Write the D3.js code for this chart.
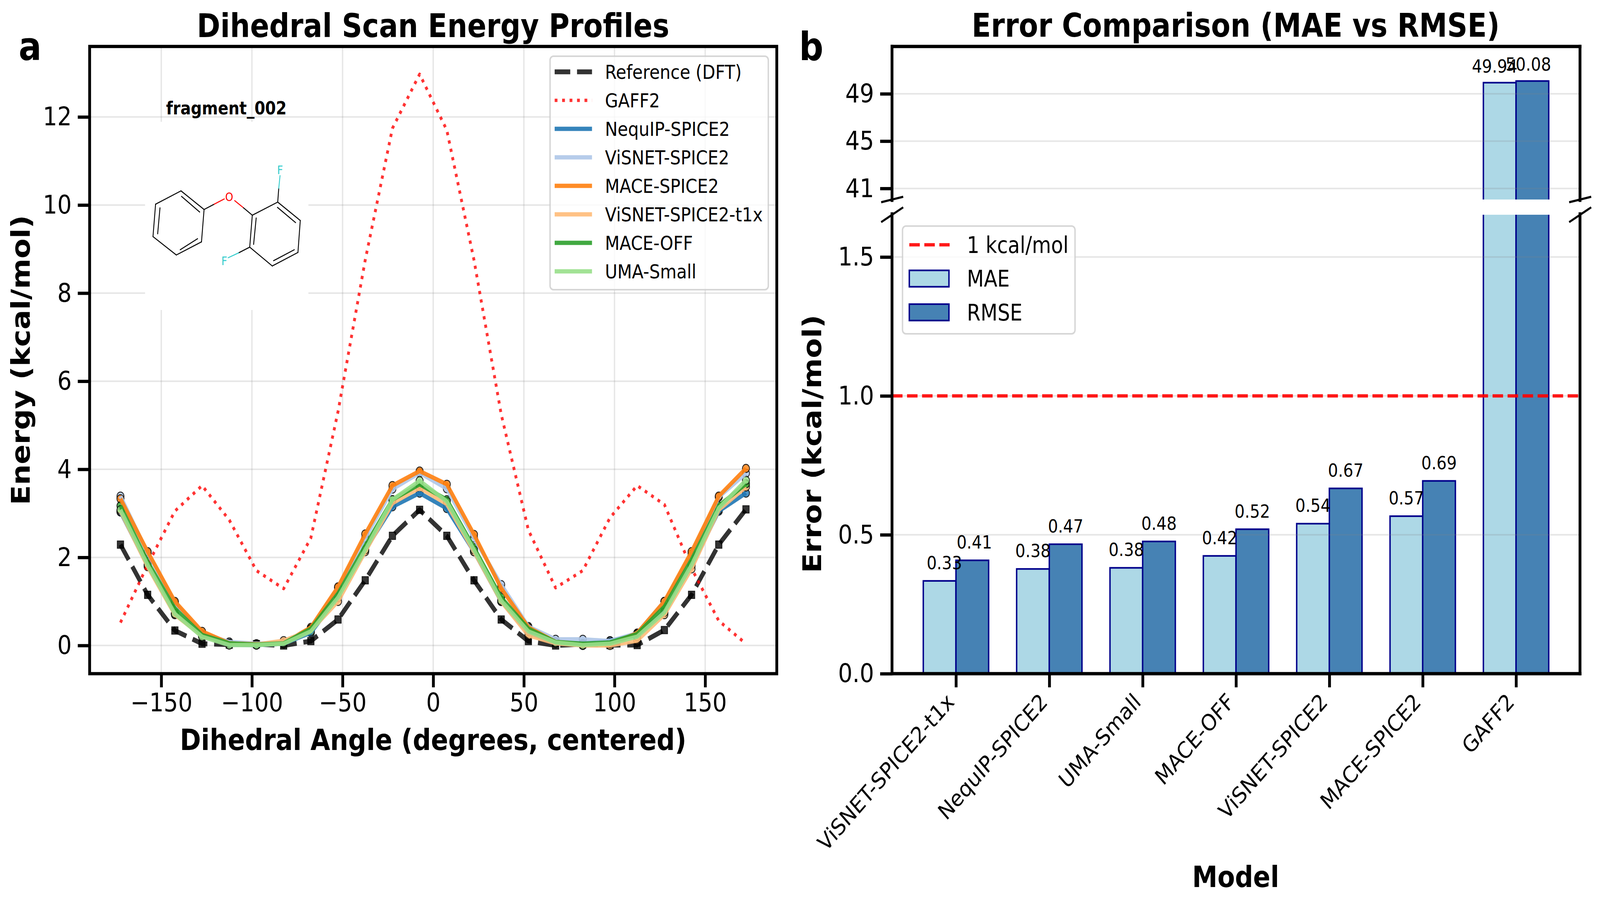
<!DOCTYPE html>
<html>
<head>
<meta charset="utf-8">
<script src="https://cdn.jsdelivr.net/npm/d3@7"></script>
<style>
body { margin: 0; background: #fff; overflow: hidden; }
text { font-family: "DejaVu Sans", sans-serif; fill: #000; }
</style>
</head>
<body>
<script>
// Panel a data
var angles = [-172.5, -157.5, -142.5, -127.5, -112.5, -97.5, -82.5, -67.5, -52.5, -37.5, -22.5, -7.5,
    7.5, 22.5, 37.5, 52.5, 67.5, 82.5, 97.5, 112.5, 127.5, 142.5, 157.5, 172.5];
var refDft = [2.29, 1.15, 0.34, 0.04, 0.02, 0.03, 0.0, 0.1, 0.59, 1.48, 2.49, 3.08, 2.49, 1.48, 0.59, 0.1, 0.0, 0.03, 0.01, 0.01, 0.35, 1.15, 2.29, 3.09];
var gaff2 = [0.52, 1.83, 3.05, 3.63, 2.85, 1.7, 1.29, 2.44, 5.31, 8.75, 11.74, 12.97, 11.7, 8.75, 5.25, 2.62, 1.31, 1.7, 2.9, 3.63, 3.2, 1.75, 0.56, 0.04];
var nequip = [3.03, 1.81, 0.72, 0.24, 0.02, 0.01, 0.04, 0.29, 1.11, 2.17, 3.15, 3.46, 3.11, 2.13, 1.0, 0.29, 0.05, 0.04, 0.11, 0.23, 0.77, 1.81, 3.05, 3.46];
var visnet = [3.39, 2.1, 0.97, 0.27, 0.08, 0.04, 0.07, 0.38, 1.31, 2.44, 3.55, 3.92, 3.56, 2.44, 1.38, 0.43, 0.14, 0.14, 0.1, 0.28, 1.0, 2.08, 3.37, 3.91];
var maceSpice = [3.33, 2.13, 1.0, 0.32, 0.05, 0.03, 0.05, 0.41, 1.33, 2.53, 3.63, 3.96, 3.66, 2.52, 1.3, 0.41, 0.08, 0.02, 0.02, 0.28, 1.0, 2.13, 3.39, 4.02];
var visnetT1x = [3.05, 1.79, 0.7, 0.22, 0.05, 0.02, 0.11, 0.34, 1.0, 2.13, 3.23, 3.58, 3.21, 2.13, 1.0, 0.23, 0.05, 0.0, 0.0, 0.11, 0.7, 1.74, 3.08, 3.6];
var maceOff = [3.17, 1.9, 0.84, 0.24, 0.05, 0.02, 0.05, 0.38, 1.18, 2.26, 3.31, 3.66, 3.31, 2.22, 1.09, 0.38, 0.08, 0.04, 0.07, 0.26, 0.88, 1.95, 3.17, 3.67];
var umaSmall = [3.08, 1.83, 0.72, 0.2, 0.01, 0.01, 0.04, 0.32, 1.09, 2.17, 3.31, 3.74, 3.27, 2.17, 1.02, 0.32, 0.07, 0.01, 0.04, 0.2, 0.75, 1.83, 3.12, 3.75];

// Panel b data
var models = ["ViSNET-SPICE2-t1x", "NequIP-SPICE2", "UMA-Small", "MACE-OFF", "ViSNET-SPICE2", "MACE-SPICE2", "GAFF2"];
var mae = [0.334, 0.377, 0.381, 0.424, 0.54, 0.567, 49.94];
var rmse = [0.408, 0.466, 0.476, 0.52, 0.667, 0.694, 50.08];

var xTicksA = [-150, -100, -50, 0, 50, 100, 150];
var yTicksA = [0, 2, 4, 6, 8, 10, 12];
var yTicksLow = [0, 0.5, 1, 1.5];
var yTicksHigh = [41, 45, 49];

// Molecule sketch, in its own drawing units
var ringAtoms = [[600, 965], [698, 902], [787, 990], [777, 1143], [680, 1205], [590, 1118]];
var ringAtoms2 = [[973, 1017], [1071, 955], [1158, 1042], [1149, 1193], [1050, 1257], [963, 1168]];
var innerBonds = [[[700, 928], [770, 1002]], [[617, 982], [608, 1105]], [[695, 1180], [762, 1128]],
    [[988, 1030], [978, 1155]], [[1070, 980], [1140, 1052]], [[1055, 1232], [1135, 1180]]];
var heteroBonds = [
    [[787, 990], [826, 965], "#000"], [[826, 965], [865, 940], "#ff0000"],
    [[905, 948], [939, 982], "#ff0000"], [[939, 982], [973, 1017], "#000"],
    [[1071, 955], [1075, 890], "#000"], [[1075, 890], [1080, 830], "#33cccc"],
    [[963, 1168], [920, 1195], "#000"], [[920, 1195], [880, 1218], "#33cccc"]
];
var heteroLabels = [["O", 884, 930, "#ff0000"], ["F", 1080, 803, "#33cccc"], ["F", 865, 1232, "#33cccc"]];

var width = 4721;
var height = 2318;

// the drawing stays in 4721x2318 units and is fitted to whatever window it gets
var svg = d3.select("body").append("svg")
    .attr("width", window.innerWidth)
    .attr("height", window.innerHeight)
    .attr("viewBox", "0 0 " + width + " " + height)
    .attr("preserveAspectRatio", "none")
    .style("display", "block");

svg.append("rect").attr("width", width).attr("height", height).attr("fill", "#fff");

var defs = svg.append("defs");

// ---------- panel a ----------
var boxA = { left: 264.5, right: 2292, top: 119, bottom: 1725.5 };
var xA = d3.scaleLinear().domain([-189.5, 189.5]).range([boxA.left, boxA.right]);
var yA = d3.scaleLinear().domain([-0.64, 13.6]).range([boxA.bottom, boxA.top]);

var series = [
    { name: "Reference (DFT)", values: refDft, color: "#000", width: 12.5, dash: "46,20", opacity: 0.8, marker: "square" },
    { name: "GAFF2", values: gaff2, color: "#ff0000", width: 8.3, dash: "8.3,13.7", opacity: 0.8, marker: "none" },
    { name: "NequIP-SPICE2", values: nequip, color: "#1f77b4", width: 11, opacity: 0.9, marker: "circle" },
    { name: "ViSNET-SPICE2", values: visnet, color: "#aec7e8", width: 11, opacity: 0.9, marker: "circle" },
    { name: "MACE-SPICE2", values: maceSpice, color: "#ff7f0e", width: 11, opacity: 0.9, marker: "circle" },
    { name: "ViSNET-SPICE2-t1x", values: visnetT1x, color: "#ffbb78", width: 11, opacity: 0.9, marker: "circle" },
    { name: "MACE-OFF", values: maceOff, color: "#2ca02c", width: 11, opacity: 0.9, marker: "circle" },
    { name: "UMA-Small", values: umaSmall, color: "#98df8a", width: 11, opacity: 0.9, marker: "circle" }
];

var chartA = svg.append("g");

// grid
chartA.append("g").selectAll("line").data(xTicksA).enter().append("line")
    .attr("x1", d => xA(d)).attr("x2", d => xA(d))
    .attr("y1", boxA.top).attr("y2", boxA.bottom)
    .attr("stroke", "#808080").attr("stroke-opacity", 0.2).attr("stroke-width", 4);
chartA.append("g").selectAll("line").data(yTicksA).enter().append("line")
    .attr("x1", boxA.left).attr("x2", boxA.right)
    .attr("y1", d => yA(d)).attr("y2", d => yA(d))
    .attr("stroke", "#808080").attr("stroke-opacity", 0.2).attr("stroke-width", 4);

// molecule inset on white
chartA.append("rect").attr("x", 428).attr("y", 312).attr("width", 482).attr("height", 482).attr("fill", "#fff");
function bondLine(p, q, color) {
    chartA.append("line")
        .attr("x1", p[0] / 1.307).attr("y1", p[1] / 1.845)
        .attr("x2", q[0] / 1.307).attr("y2", q[1] / 1.845)
        .attr("stroke", color).attr("stroke-width", 2.6).attr("stroke-linecap", "round");
}
[ringAtoms, ringAtoms2].forEach(function(ring) {
    ring.forEach(function(p, i) { bondLine(p, ring[(i + 1) % ring.length], "#000"); });
});
innerBonds.forEach(function(b) { bondLine(b[0], b[1], "#000"); });
heteroBonds.forEach(function(b) { bondLine(b[0], b[1], b[2]); });
heteroLabels.forEach(function(l) {
    chartA.append("text")
        .attr("x", l[1] / 1.307).attr("y", l[2] / 1.845)
        .attr("dy", "0.36em").attr("text-anchor", "middle")
        .style("font-size", "30px").style("fill", l[3]).text(l[0]);
});
chartA.append("text")
    .attr("x", 668).attr("y", 293).attr("text-anchor", "middle")
    .style("font-size", "45.5px").style("font-weight", "bold")
    .text("fragment_002");

// scatter markers sit under every line
series.forEach(function(s) {
    if (s.marker === "circle") {
        chartA.append("g").selectAll("circle").data(s.values).enter().append("circle")
            .attr("cx", (d, i) => xA(angles[i]))
            .attr("cy", d => yA(d))
            .attr("r", 10.5)
            .attr("fill", s.color)
            .attr("fill-opacity", 0.8)
            .attr("stroke", "#000")
            .attr("stroke-opacity", 0.8)
            .attr("stroke-width", 2.5);
    } else if (s.marker === "square") {
        chartA.append("g").selectAll("rect").data(s.values).enter().append("rect")
            .attr("x", (d, i) => xA(angles[i]) - 9.5)
            .attr("y", d => yA(d) - 9.5)
            .attr("width", 19)
            .attr("height", 19)
            .attr("fill", s.color)
            .attr("fill-opacity", 0.8)
            .attr("stroke", "#000")
            .attr("stroke-opacity", 0.8)
            .attr("stroke-width", 2);
    }
});

var lineA = d3.line().x((d, i) => xA(angles[i])).y(d => yA(d));
series.forEach(function(s) {
    chartA.append("path")
        .attr("d", lineA(s.values))
        .attr("fill", "none")
        .attr("stroke", s.color)
        .attr("stroke-opacity", s.opacity)
        .attr("stroke-width", s.width)
        .attr("stroke-linejoin", "round")
        .attr("stroke-dasharray", s.dash || null);
});

function styleAxis(g) {
    g.select(".domain").remove();
    g.selectAll(".tick line").attr("stroke", "#000").attr("stroke-width", 8.3);
    g.selectAll(".tick text").style("font-size", "66.7px").style("font-family", "'DejaVu Sans'");
}

chartA.append("g")
    .attr("transform", "translate(0," + boxA.bottom + ")")
    .call(d3.axisBottom(xA).tickValues(xTicksA).tickSize(35).tickPadding(14))
    .call(styleAxis);
chartA.append("g")
    .attr("transform", "translate(" + boxA.left + ",0)")
    .call(d3.axisLeft(yA).tickValues(yTicksA).tickSize(35).tickPadding(18))
    .call(styleAxis);

// spines
chartA.append("rect")
    .attr("x", boxA.left).attr("y", boxA.top)
    .attr("width", boxA.right - boxA.left).attr("height", boxA.bottom - boxA.top)
    .attr("fill", "none").attr("stroke", "#000").attr("stroke-width", 8.3);

// legend a
var legA = chartA.append("g");
legA.append("rect")
    .attr("x", 1623).attr("y", 144).attr("width", 644).attr("height", 598).attr("rx", 10)
    .attr("fill", "#fff").attr("fill-opacity", 0.8)
    .attr("stroke", "#ccc").attr("stroke-opacity", 0.8).attr("stroke-width", 4.2);
var legRowA = d3.scalePoint().domain(series.map(s => s.name)).range([184, 695]);
series.forEach(function(s) {
    legA.append("line")
        .attr("x1", 1636.6).attr("x2", 1746.8)
        .attr("y1", legRowA(s.name)).attr("y2", legRowA(s.name))
        .attr("stroke", s.color).attr("stroke-opacity", s.opacity)
        .attr("stroke-width", s.width)
        .attr("stroke-dasharray", s.dash || null);
    legA.append("text")
        .attr("x", 1785).attr("y", legRowA(s.name))
        .attr("dy", "0.36em")
        .style("font-size", "50px")
        .text(s.name);
});

chartA.append("text").attr("x", 1278).attr("y", 95).attr("text-anchor", "middle")
    .style("font-size", "83.3px").style("font-weight", "bold").text("Dihedral Scan Energy Profiles");
chartA.append("text").attr("x", 1278).attr("y", 1921).attr("text-anchor", "middle")
    .style("font-size", "75px").style("font-weight", "bold").text("Dihedral Angle (degrees, centered)");
chartA.append("text")
    .attr("transform", "translate(88," + ((boxA.top + boxA.bottom) / 2) + ") rotate(-90)")
    .attr("text-anchor", "middle")
    .style("font-size", "75px").style("font-weight", "bold").text("Energy (kcal/mol)");
chartA.append("text").attr("x", 55).attr("y", 154)
    .style("font-size", "100px").style("font-weight", "bold").text("a");

// ---------- panel b ----------
var boxB = { left: 2632, right: 4662, top: 119, breakTop: 513, breakBottom: 548, bottom: 1725.5 };
var xB = d3.scaleLinear().domain([-0.685, 6.685]).range([boxB.left, boxB.right]);
var yHigh = d3.scaleLinear().domain([40, 53]).range([boxB.breakTop, boxB.top]);
var yLow = d3.scaleLinear().domain([0, 1.655]).range([boxB.bottom, boxB.breakBottom]);
var barW = xB(0.35) - xB(0);

defs.append("clipPath").attr("id", "clipHigh").append("rect")
    .attr("x", boxB.left).attr("y", boxB.top).attr("width", boxB.right - boxB.left).attr("height", 511 - boxB.top);
defs.append("clipPath").attr("id", "clipLow").append("rect")
    .attr("x", boxB.left).attr("y", 550).attr("width", boxB.right - boxB.left).attr("height", boxB.bottom - 550);

var barSeries = [
    { name: "MAE", values: mae, color: "#add8e6", offset: -1 },
    { name: "RMSE", values: rmse, color: "#4682b4", offset: 0 }
];

var chartB = svg.append("g");

// both halves of the broken axis draw the same bars, each clipped to its own range
[{ y: yHigh, clip: "clipHigh", base: 30 }, { y: yLow, clip: "clipLow", base: 0 }].forEach(function(part) {
    var g = chartB.append("g").attr("clip-path", "url(#" + part.clip + ")");
    barSeries.forEach(function(b) {
        g.append("g").selectAll("rect").data(b.values).enter().append("rect")
            .attr("x", (d, i) => xB(i) + b.offset * barW)
            .attr("width", barW)
            .attr("y", d => part.y(d))
            .attr("height", d => Math.max(0, part.y(part.base) - part.y(d)))
            .attr("fill", b.color)
            .attr("stroke", "#00008b")
            .attr("stroke-width", 4.2);
    });
});

// grid over the bars
chartB.append("g").selectAll("line").data(yTicksHigh).enter().append("line")
    .attr("x1", boxB.left).attr("x2", boxB.right)
    .attr("y1", d => yHigh(d)).attr("y2", d => yHigh(d))
    .attr("stroke", "#808080").attr("stroke-opacity", 0.2).attr("stroke-width", 4);
chartB.append("g").selectAll("line").data(yTicksLow).enter().append("line")
    .attr("x1", boxB.left).attr("x2", boxB.right)
    .attr("y1", d => yLow(d)).attr("y2", d => yLow(d))
    .attr("stroke", "#808080").attr("stroke-opacity", 0.2).attr("stroke-width", 4);

chartB.append("line")
    .attr("x1", boxB.left).attr("x2", boxB.right)
    .attr("y1", yLow(1)).attr("y2", yLow(1))
    .attr("stroke", "#ff0000").attr("stroke-opacity", 0.9)
    .attr("stroke-width", 8.3).attr("stroke-dasharray", "31,13.3");

// value labels; a few of the originals sit off-centre, layout only
var labelShift = { "MAE0": 14, "RMSE0": 6, "MAE6": -15, "RMSE6": -12 };
barSeries.forEach(function(b) {
    chartB.append("g").selectAll("text").data(b.values).enter().append("text")
        .attr("x", (d, i) => xB(i) + b.offset * barW + barW / 2 + (labelShift[b.name + i] || 0))
        .attr("y", d => d > 10 ? yHigh(d) - 26 : yLow(d) - 30)
        .attr("text-anchor", "middle")
        .style("font-size", "47px")
        .text(d => d.toFixed(2));
});

// axes
chartB.append("g")
    .attr("transform", "translate(" + boxB.left + ",0)")
    .call(d3.axisLeft(yHigh).tickValues(yTicksHigh).tickSize(35).tickPadding(18))
    .call(styleAxis);
chartB.append("g")
    .attr("transform", "translate(" + boxB.left + ",0)")
    .call(d3.axisLeft(yLow).tickValues(yTicksLow).tickFormat(d3.format(".1f")).tickSize(35).tickPadding(18))
    .call(styleAxis);
var axisBx = chartB.append("g")
    .attr("transform", "translate(0," + boxB.bottom + ")")
    .call(d3.axisBottom(xB).tickValues(d3.range(models.length)).tickFormat(i => models[i]).tickSize(35).tickPadding(14))
    .call(styleAxis);
axisBx.selectAll(".tick text")
    .style("font-size", "58px")
    .attr("text-anchor", "end")
    .attr("dy", "0.71em")
    .attr("transform", "translate(-66,12) rotate(-45)");

// spines, open at the break
var spine = chartB.append("g").attr("stroke", "#000").attr("stroke-width", 8.3).attr("stroke-linecap", "square");
spine.append("line").attr("x1", boxB.left).attr("x2", boxB.right).attr("y1", boxB.top).attr("y2", boxB.top);
spine.append("line").attr("x1", boxB.left).attr("x2", boxB.right).attr("y1", boxB.bottom).attr("y2", boxB.bottom);
[boxB.left, boxB.right].forEach(function(x) {
    spine.append("line").attr("x1", x).attr("x2", x).attr("y1", boxB.top).attr("y2", boxB.breakTop);
    spine.append("line").attr("x1", x).attr("x2", x).attr("y1", boxB.breakBottom).attr("y2", boxB.bottom);
    // break marks
    chartB.append("line").attr("x1", x - 32).attr("x2", x + 33).attr("y1", 518).attr("y2", 504)
        .attr("stroke", "#000").attr("stroke-width", 5.5);
    chartB.append("line").attr("x1", x - 32).attr("x2", x + 33).attr("y1", 569).attr("y2", 531)
        .attr("stroke", "#000").attr("stroke-width", 5.5);
});

// legend b
var legB = chartB.append("g");
legB.append("rect")
    .attr("x", 2663).attr("y", 579).attr("width", 509).attr("height", 276).attr("rx", 10)
    .attr("fill", "#fff").attr("fill-opacity", 0.8)
    .attr("stroke", "#ccc").attr("stroke-opacity", 0.8).attr("stroke-width", 4.2);
legB.append("line")
    .attr("x1", 2683).attr("x2", 2802).attr("y1", 627).attr("y2", 627)
    .attr("stroke", "#ff0000").attr("stroke-opacity", 0.9)
    .attr("stroke-width", 8.3).attr("stroke-dasharray", "31,13.3");
var legRowB = d3.scalePoint().domain(["1 kcal/mol", "MAE", "RMSE"]).range([627, 800]);
barSeries.forEach(function(b) {
    legB.append("rect")
        .attr("x", 2683).attr("y", legRowB(b.name) - 21)
        .attr("width", 117).attr("height", 42)
        .attr("fill", b.color).attr("stroke", "#00008b").attr("stroke-width", 4.2);
});
legRowB.domain().forEach(function(name) {
    legB.append("text").attr("x", 2853).attr("y", legRowB(name)).attr("dy", "0.36em")
        .style("font-size", "58px").text(name);
});

chartB.append("text").attr("x", 3646).attr("y", 94).attr("text-anchor", "middle")
    .style("font-size", "83.3px").style("font-weight", "bold").text("Error Comparison (MAE vs RMSE)");
chartB.append("text").attr("x", 3646).attr("y", 2272).attr("text-anchor", "middle")
    .style("font-size", "75px").style("font-weight", "bold").text("Model");
chartB.append("text")
    .attr("transform", "translate(2423," + ((boxB.breakBottom + boxB.bottom) / 2) + ") rotate(-90)")
    .attr("text-anchor", "middle")
    .style("font-size", "75px").style("font-weight", "bold").text("Error (kcal/mol)");
chartB.append("text").attr("x", 2358).attr("y", 154)
    .style("font-size", "100px").style("font-weight", "bold").text("b");
</script>
</body>
</html>
